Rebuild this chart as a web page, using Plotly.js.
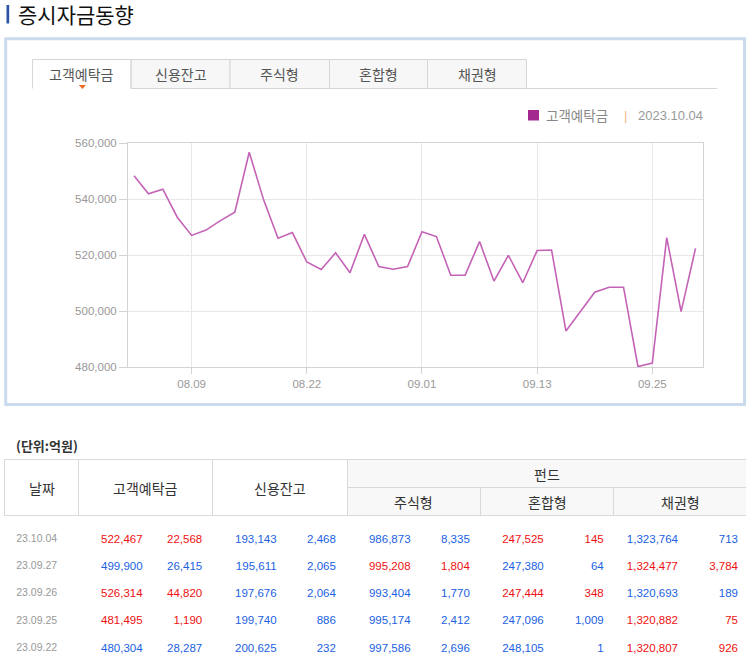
<!DOCTYPE html>
<html>
<head>
<meta charset="utf-8">
<script src="https://cdn.plot.ly/plotly-3.0.1.min.js"></script>
<style>
html,body{margin:0;padding:0;background:#fff;}
#chart{width:748px;height:662px;}
</style>
</head>
<body>
<div id="chart"></div>
<script>
// ---------- data ----------
const chartDates = ['08.03','08.04','08.07','08.08','08.09','08.10','08.11','08.14','08.16','08.17',
  '08.18','08.21','08.22','08.23','08.24','08.25','08.28','08.29','08.30','08.31',
  '09.01','09.04','09.05','09.06','09.07','09.08','09.11','09.12','09.13','09.14',
  '09.15','09.18','09.19','09.20','09.21','09.22','09.25','09.26','09.27','10.04'];
const depositSeries = [548400,542000,543600,533600,527100,529000,532400,535400,556800,539800,
  526100,528100,517600,514900,520900,513800,527500,516000,515000,516000,
  528400,526700,512900,512900,524900,510800,520000,510200,521700,521900,
  493000,499900,506800,508600,508600,480304,481495,526314,499900,522467];
const xTickLabels = ['08.09','08.22','09.01','09.13','09.25'];
const yTickValues = [480000,500000,520000,540000,560000];

const tabLabels = ['고객예탁금','신용잔고','주식형','혼합형','채권형'];
const seriesName = '고객예탁금';
const asOfDate = '2023.10.04';

const tableDates = ['23.10.04','23.09.27','23.09.26','23.09.25','23.09.22'];
const deposit = [522467,499900,526314,481495,480304];
const depositChg = [22568,-26415,44820,1190,-28287];
const credit = [193143,195611,197676,199740,200625];
const creditChg = [-2468,-2065,-2064,-886,-232];
const stockFund = [986873,995208,993404,995174,997586];
const stockFundChg = [-8335,1804,-1770,-2412,-2696];
const mixedFund = [247525,247380,247444,247096,248105];
const mixedFundChg = [145,-64,348,-1009,-1];
const bondFund = [1323764,1324477,1320693,1320882,1320807];
const bondFundChg = [-713,3784,-189,75,926];

// ---------- helpers ----------
const W = 748, H = 662;
const X = p => p / W;
const Y = p => 1 - p / H;
const RED = '#ee1111', BLUE = '#1b5fe2';
const fmt = v => Math.abs(v).toLocaleString('en-US');
const dirColor = chg => chg.map(c => c >= 0 ? RED : BLUE);

// ---------- traces ----------
const lineTrace = {
  type: 'scatter', mode: 'lines',
  x: chartDates, y: depositSeries,
  line: {color: '#c462b6', width: 1.6},
  hoverinfo: 'skip', showlegend: false
};

const pairs = [[deposit, depositChg],[credit, creditChg],[stockFund, stockFundChg],[mixedFund, mixedFundChg],[bondFund, bondFundChg]];
const cellValues = [tableDates];
const cellColors = [tableDates.map(() => '#999999')];
pairs.forEach(([v, c]) => {
  cellValues.push(v.map(fmt));
  cellValues.push(c.map(fmt));
  cellColors.push(dirColor(c));
  cellColors.push(dirColor(c));
});

const tableTrace = {
  type: 'table',
  domain: {x: [X(4), X(746.3)], y: [0, Y(526)]},
  columnwidth: [65.4,81.3,59.6,74.4,59.3,74.7,59.3,74,60,74.3,60],
  header: {
    values: cellValues.map(() => ''),
    height: 0.2,
    fill: {color: 'rgba(0,0,0,0)'},
    line: {color: 'rgba(0,0,0,0)', width: 0},
    font: {size: 1, color: 'rgba(0,0,0,0)'}
  },
  cells: {
    values: cellValues,
    align: ['center','right','right','right','right','right','right','right','right','right','right'],
    height: 27.2,
    fill: {color: '#ffffff'},
    line: {color: 'rgba(0,0,0,0)', width: 0},
    font: {family: 'Liberation Sans, Arial, sans-serif',
           size: [10.5,11.5,11.5,11.5,11.5,11.5,11.5,11.5,11.5,11.5,11.5],
           color: cellColors}
  }
};

// ---------- decorations ----------
const shapes = [];
const rect = (x0,y0,x1,y1,fill,line,lw) => shapes.push({type:'rect',xref:'paper',yref:'paper',
  x0:X(x0),x1:X(x1),y0:Y(y1),y1:Y(y0),fillcolor:fill||'rgba(0,0,0,0)',
  line:{color:line||'rgba(0,0,0,0)',width:lw===undefined?0:lw},layer:'below'});
const seg = (x0,y0,x1,y1,color,lw) => shapes.push({type:'line',xref:'paper',yref:'paper',
  x0:X(x0),x1:X(x1),y0:Y(y0),y1:Y(y1),line:{color:color,width:lw||1},layer:'below'});

// title bar
rect(6.5,5,9.2,23.5,'#2c54a4');
// outer box
rect(5.7,38.7,744.5,404.5,null,'#cbdbee',3);
// tabs
const tabEdges = [32.5,131,230,329.5,427.5,526.5];
for (let i = 1; i < 5; i++) rect(tabEdges[i],59.5,tabEdges[i+1],88.5,'#f7f7f7','#d6d6d6',1);
seg(32.5,59.5,131,59.5,'#d6d6d6',1);
seg(32.5,59.5,32.5,88.5,'#d6d6d6',1);
seg(131,59.5,131,88.5,'#d6d6d6',1);
seg(131,88.5,717,88.5,'#d6d6d6',1);
shapes.push({type:'path',xref:'paper',yref:'paper',
  path:`M ${X(78.8)} ${Y(85)} L ${X(86)} ${Y(85)} L ${X(82.4)} ${Y(89)} Z`,
  fillcolor:'#f26a22',line:{width:0}});
// legend square
rect(528,110,539,120.5,'#a3288f');
// table header
rect(347,459.5,746,515.5,'#f8f8f8');
const HL = '#d9d9d9';
seg(4,459.5,746,459.5,HL,1);
seg(4,515.5,746,515.5,HL,1);
seg(347,487.5,746,487.5,HL,1);
[4.5,78.5,212.5,347.5].forEach(x => seg(x,459.5,x,515.5,HL,1));
[480.5,613.5].forEach(x => seg(x,487.5,x,515.5,HL,1));

// ---------- annotations ----------
const KR = 'Noto Sans CJK KR, sans-serif';
const ann = [];
const txt = (t,x,y,size,color,xanchor,family,extra) => ann.push(Object.assign({
  text:t,xref:'paper',yref:'paper',x:X(x),y:Y(y),xanchor:xanchor||'center',yanchor:'middle',
  showarrow:false,font:{family:family||KR,size:size,color:color}},extra||{}));

txt('증시자금동향',16,14.5,21,'#111111','left');
tabLabels.forEach((t,i) => txt(t,(tabEdges[i]+tabEdges[i+1])/2,74,14,'#555555'));
txt(seriesName,544,115.5,13.5,'#888888','left');
txt('|',622,115,13,'#f2b889','left','Liberation Sans, sans-serif');
txt(asOfDate,636,116,13,'#999999','left','Liberation Sans, sans-serif');
txt('<b>(단위:억원)</b>',14,445,13,'#333333','left');
txt('날짜',41.5,488,14,'#333333');
txt('고객예탁금',145.5,488,14,'#333333');
txt('신용잔고',279.5,488,14,'#333333');
txt('펀드',547,473.5,14,'#333333');
txt('주식형',413.8,502,14,'#333333');
txt('혼합형',547,502,14,'#333333');
txt('채권형',680,502,14,'#333333');

const tickFont = {family:'Liberation Sans, Arial, sans-serif', size:11.5, color:'#999999'};

const layout = {
  width: W, height: H,
  margin: {l:0,r:0,t:0,b:0,pad:0},
  paper_bgcolor:'#ffffff', plot_bgcolor:'#ffffff',
  showlegend:false,
  xaxis: {
    domain:[X(128), X(703)], type:'category',
    range:[-0.42, 39.52],
    tickmode:'array', tickvals: xTickLabels, ticktext: xTickLabels,
    ticks:'outside', ticklen:6, tickcolor:'#d3d3d3',
    showgrid:true, gridcolor:'#e8e8e8', gridwidth:1,
    showline:true, linecolor:'#d3d3d3', linewidth:1, mirror:true,
    tickfont: tickFont, fixedrange:true
  },
  yaxis: {
    domain:[Y(367.3), Y(143.3)],
    range:[480000,560000],
    tickmode:'array', tickvals: yTickValues,
    ticktext: yTickValues.map(v => v.toLocaleString('en-US')),
    ticks:'outside', ticklen:8, tickcolor:'#d3d3d3',
    showgrid:true, gridcolor:'#e8e8e8', gridwidth:1, zeroline:false,
    showline:true, linecolor:'#d3d3d3', linewidth:1, mirror:true,
    tickfont: tickFont, fixedrange:true
  },
  shapes: shapes,
  annotations: ann
};

Plotly.newPlot('chart', [lineTrace, tableTrace], layout, {displayModeBar:false, staticPlot:true});
</script>
</body>
</html>
